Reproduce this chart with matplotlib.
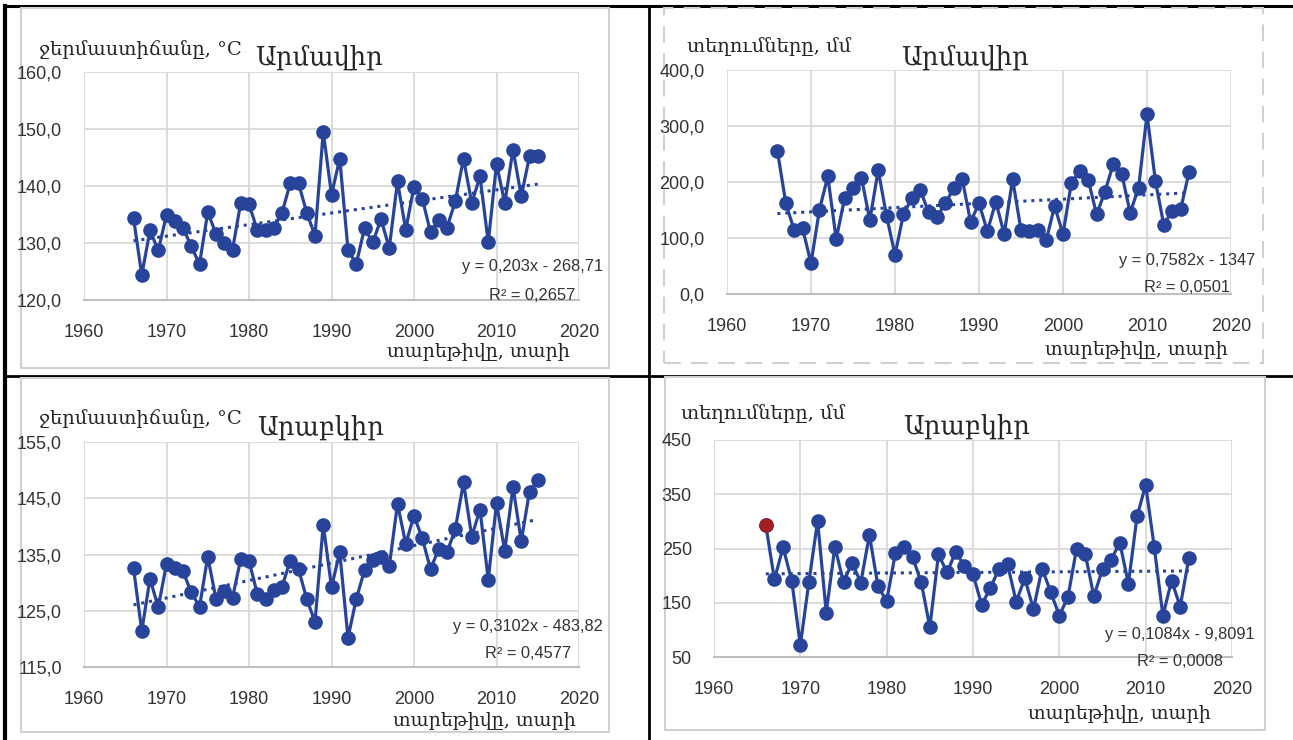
import matplotlib
matplotlib.use("Agg")
import matplotlib.pyplot as plt
from matplotlib.patches import Rectangle
from matplotlib.lines import Line2D

# --- data -----------------------------------------------------------------
years = list(range(1966, 2016))

armavir_temp = [134.4, 124.4, 132.2, 128.7, 134.9, 133.8, 132.7, 129.4, 126.3, 135.4,
                131.6, 130.0, 128.8, 137.1, 136.8, 132.3, 132.3, 132.6, 135.3, 140.5,
                140.5, 135.3, 131.3, 149.5, 138.5, 144.8, 128.8, 126.3, 132.6, 130.1,
                134.2, 129.1, 140.8, 132.3, 139.9, 137.8, 131.9, 134.1, 132.7, 137.3,
                144.8, 137.0, 141.7, 130.1, 143.9, 137.0, 146.4, 138.2, 145.2, 145.3]

armavir_prec = [256, 162, 114, 117, 55, 150, 210, 98, 171, 189,
                208, 132, 221, 139, 70, 142, 171, 186, 146, 138,
                162, 189, 205, 129, 162, 112, 165, 107, 205, 114,
                113, 114, 96, 157, 107, 199, 220, 204, 142, 183,
                233, 214, 145, 190, 321, 202, 123, 149, 151, 217]

arabkir_temp = [132.6, 121.4, 130.7, 125.6, 133.3, 132.6, 132.0, 128.3, 125.7, 134.6,
                127.1, 128.5, 127.3, 134.2, 133.9, 128.0, 127.1, 128.7, 129.3, 133.9,
                132.4, 127.1, 123.0, 140.3, 129.2, 135.4, 120.2, 127.1, 132.2, 134.1,
                134.6, 132.9, 144.0, 136.9, 141.9, 137.9, 132.4, 136.0, 135.4, 139.5,
                147.8, 138.2, 143.0, 130.5, 144.1, 135.7, 147.0, 137.4, 146.2, 148.2]

arabkir_prec = [293, 193, 252, 191, 72, 189, 301, 132, 253, 188,
                224, 187, 275, 180, 153, 241, 252, 234, 188, 105,
                239, 206, 244, 218, 203, 146, 177, 212, 221, 152,
                195, 138, 213, 170, 126, 161, 250, 240, 162, 212,
                229, 261, 185, 309, 367, 252, 126, 191, 143, 232]

series = [armavir_temp, armavir_prec, arabkir_temp, arabkir_prec]

trend_slope = [0.203, 0.7582, 0.3102, 0.1084]
trend_icpt = [-268.71, -1347, -483.82, -9.8091]
eq_labels = ['y = 0,203x - 268,71', 'y = 0,7582x - 1347',
             'y = 0,3102x - 483,82', 'y = 0,1084x - 9,8091']
r2_labels = ['R² = 0,2657', 'R² = 0,0501', 'R² = 0,4577', 'R² = 0,0008']

titles = ['Արմավիր', 'Արմավիր', 'Արաբկիր', 'Արաբկիր']
ylabels = ['ջերմաստիճանը, °C', 'տեղումները, մմ', 'ջերմաստիճանը, °C', 'տեղումները, մմ']
xlabel = 'տարեթիվը, տարի'
ylims = [(120, 160), (0, 400), (115, 155), (50, 450)]
ystep = [10, 100, 10, 100]
ydec = [1, 1, 1, 0]
xticks = [1960, 1970, 1980, 1990, 2000, 2010, 2020]

# --- layout (pixels) ------------------------------------------------------
W, H = 1293, 740
plot_box = [(84, 72, 579, 300), (727, 70, 1231, 294),
            (84, 442, 579, 667), (714, 440, 1232, 657)]
frame_box = [(21, 8, 609, 368), (664, 8, 1263, 363),
             (21, 378, 609, 732), (665, 377, 1265, 730)]
ylab_pos = [(39, 50), (687, 47), (39, 419), (681, 414)]
title_pos = [(255, 57), (901, 57), (257, 427), (903, 426)]
xlab_pos = [(570, 352), (1228, 350), (576, 721), (1211, 714)]
eq_pos = [(532, 267), (1187, 260), (528, 627), (1180, 635)]
r2_pos = [(532, 295), (1187, 288), (528, 654), (1180, 662)]

blue = '#27449A'
arm_font = ['DejaVu Serif', 'DejaVu Sans']
num_font = ['Liberation Sans', 'DejaVu Sans']


def fx(x):
    return x / W


def fy(y):
    return 1 - y / H


fig = plt.figure(figsize=(W / 100, H / 100), dpi=100)
fig.patch.set_facecolor('white')

# table lines
for (x0, y0, x1, y1, lw) in [(5, 6, 1293, 6, 2.2), (5, 376, 1293, 376, 2.0),
                              (5, 6, 5, 740, 3.0), (649, 6, 649, 740, 2.0)]:
    fig.add_artist(Line2D([fx(x0), fx(x1)], [fy(y0), fy(y1)], color='black',
                          lw=lw, transform=fig.transFigure, zorder=-10))

for i in range(4):
    l, t, r, b = frame_box[i]
    fig.add_artist(Rectangle((fx(l), fy(b)), fx(r - l), (b - t) / H,
                             transform=fig.transFigure, facecolor='white',
                             edgecolor='#D0D0D0', lw=1.5, zorder=-5,
                             linestyle=(0, (8, 5)) if i == 1 else '-'))

    l, t, r, b = plot_box[i]
    ax = fig.add_axes([fx(l), fy(b), (r - l) / W, (b - t) / H])
    ax.patch.set_alpha(0)
    y = series[i]
    ax.plot(years, y, color=blue, lw=2.3, marker='o', ms=9.5, zorder=3)
    if i == 3:
        ax.plot(years[0], y[0], 'o', color='#A11E22', ms=9.5, zorder=4)
    ty = [trend_slope[i] * yr + trend_icpt[i] for yr in (years[0], years[-1])]
    ax.plot([years[0], years[-1]], ty, color=blue, lw=2.2, ls=(0, (1, 1.6)), zorder=2)

    ax.set_xlim(1960, 2020)
    ax.set_ylim(*ylims[i])
    ax.set_xticks(xticks)
    yt = list(range(ylims[i][0], ylims[i][1] + 1, ystep[i]))
    ax.set_yticks(yt)
    if ydec[i]:
        ax.set_yticklabels([f'{v},0' for v in yt])
    else:
        ax.set_yticklabels([str(v) for v in yt])
    ax.grid(True, color='#D9D9D9', lw=1.3)
    ax.set_axisbelow(True)
    for s in ['top', 'right', 'left']:
        ax.spines[s].set_visible(False)
    ax.spines['bottom'].set_color('#BFBFBF')
    ax.spines['bottom'].set_linewidth(1.5)
    ax.tick_params(length=0, labelsize=13, colors='#333333')
    ax.tick_params(axis='x', pad=17)
    ax.tick_params(axis='y', pad=16)
    for lab in ax.get_xticklabels() + ax.get_yticklabels():
        lab.set_family(num_font)

    fig.text(fx(ylab_pos[i][0]), fy(ylab_pos[i][1]), ylabels[i], family=arm_font,
             fontsize=14, ha='left', va='center', color='#262626')
    fig.text(fx(title_pos[i][0]), fy(title_pos[i][1]), titles[i], family=arm_font,
             fontsize=18.5, ha='left', va='center', color='#262626')
    fig.text(fx(xlab_pos[i][0]), fy(xlab_pos[i][1]), xlabel, family=arm_font,
             fontsize=13.7, ha='right', va='center', color='#262626')
    fig.text(fx(eq_pos[i][0]), fy(eq_pos[i][1]), eq_labels[i], family=num_font,
             fontsize=11.8, ha='center', va='center', color='#333333')
    fig.text(fx(r2_pos[i][0]), fy(r2_pos[i][1]), r2_labels[i], family=num_font,
             fontsize=11.8, ha='center', va='center', color='#333333')

fig.savefig('out.png', dpi=100)
